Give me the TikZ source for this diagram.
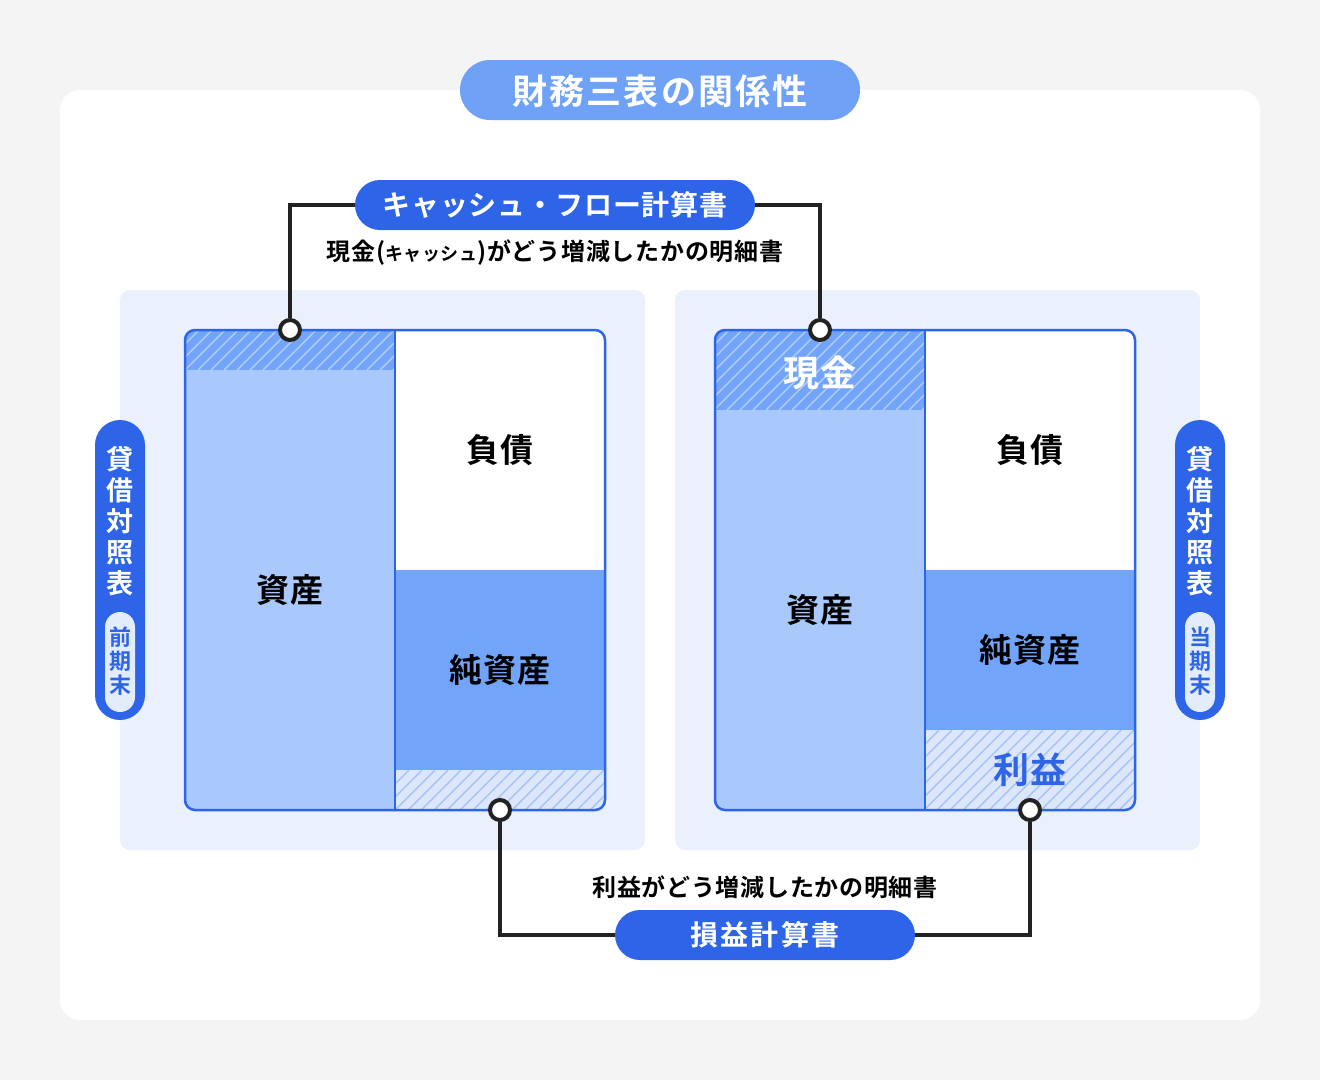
\documentclass[tikz,border=0pt]{standalone}
\usepackage{fontspec}
\setmainfont{Noto Sans CJK JP}[BoldFont={Noto Sans CJK JP Bold}]
\definecolor{bgc}{HTML}{F5F4F5}
\definecolor{panelc}{HTML}{EAF1FC}
\definecolor{deepc}{HTML}{2D64E8}
\definecolor{midc}{HTML}{72A4F9}
\definecolor{lightc}{HTML}{A9C8FC}
\definecolor{palec}{HTML}{DCE7FC}
\definecolor{hatchc}{HTML}{A6C2F6}
\definecolor{titlec}{HTML}{6FA2F7}
\definecolor{tagc}{HTML}{E3ECFB}
\definecolor{inkc}{HTML}{222222}
\tikzset{
  pill/.style={fill=#1, text=white, inner sep=0pt, font=\bfseries},
  conn/.style={draw=inkc, line width=4pt},
  dot/.style={circle, draw=inkc, fill=white, line width=4pt, minimum size=20pt, inner sep=0pt},
  big/.style={font=\fontsize{33}{36}\selectfont\bfseries\addfontfeature{LetterSpace=2}, text=black},
  bigger/.style={font=\fontsize{36}{40}\selectfont\bfseries\addfontfeature{LetterSpace=2}},
  sub/.style={font=\fontsize{24}{27}\selectfont\bfseries\addfontfeature{LetterSpace=3}, text=black},
  vlab/.style={font=\fontsize{27}{31}\selectfont\bfseries, text=white, align=center, inner sep=0pt},
  vtag/.style={font=\fontsize{22}{24}\selectfont\bfseries, text=deepc, align=center, inner sep=0pt},
  hatchw/.style={draw=white, draw opacity=0.45, line width=1.4pt},
  hatchb/.style={draw=hatchc, line width=1.4pt}
}
\begin{document}
\begin{tikzpicture}[x=1pt,y=-1pt]
\fill[bgc] (0,0) rectangle (1320,1080);
\useasboundingbox (0,0) rectangle (1320,1080);
\fill[white, rounded corners=20pt] (60,90) rectangle (1260,1020);

% title
\fill[titlec, rounded corners=30pt] (460,60) rectangle (860,120);
\node[font=\fontsize{35}{40}\selectfont\bfseries\addfontfeature{LetterSpace=6}, text=white] (title) at (660,91) {財務三表の関係性};

% panels
\fill[panelc, rounded corners=10pt] (120,290) rectangle (645,850);
\fill[panelc, rounded corners=10pt] (675,290) rectangle (1200,850);

% ---------- left balance sheet ----------
\begin{scope}
\clip[rounded corners=10pt] (185,330) rectangle (605,810);
\fill[lightc] (185,330) rectangle (395,810);
\fill[midc] (185,330) rectangle (395,370);
\begin{scope}
\clip (185,330) rectangle (395,370);
\foreach \i in {-52,-39,...,260} {\draw[hatchw] ({185+\i},370) -- ({225+\i},330);}
\end{scope}
\fill[white] (395,330) rectangle (605,570);
\fill[midc] (395,570) rectangle (605,770);
\fill[palec] (395,770) rectangle (605,810);
\begin{scope}
\clip (395,770) rectangle (605,810);
\foreach \i in {-52,-39,...,260} {\draw[hatchb] ({395+\i},810) -- ({435+\i},770);}
\end{scope}
\end{scope}
\draw[deepc, line width=1.5pt] (395,330) -- (395,810);
\draw[deepc, line width=2.5pt, rounded corners=10pt] (185,330) rectangle (605,810);
\node[big] (lassets) at (290,590) {資産};
\node[big] (lliab) at (500,450) {負債};
\node[big] (lequity) at (500,670) {純資産};

% ---------- right balance sheet ----------
\begin{scope}
\clip[rounded corners=10pt] (715,330) rectangle (1135,810);
\fill[lightc] (715,330) rectangle (925,810);
\fill[midc] (715,330) rectangle (925,410);
\begin{scope}
\clip (715,330) rectangle (925,410);
\foreach \i in {-92,-79,...,260} {\draw[hatchw] ({715+\i},410) -- ({795+\i},330);}
\end{scope}
\fill[white] (925,330) rectangle (1135,570);
\fill[midc] (925,570) rectangle (1135,730);
\fill[palec] (925,730) rectangle (1135,810);
\begin{scope}
\clip (925,730) rectangle (1135,810);
\foreach \i in {-92,-79,...,260} {\draw[hatchb] ({925+\i},810) -- ({1005+\i},730);}
\end{scope}
\end{scope}
\draw[deepc, line width=1.5pt] (925,330) -- (925,810);
\draw[deepc, line width=2.5pt, rounded corners=10pt] (715,330) rectangle (1135,810);
\node[bigger, text=white] (cash) at (820,373) {現金};
\node[big] (rassets) at (820,610) {資産};
\node[big] (rliab) at (1030,450) {負債};
\node[big] (requity) at (1030,650) {純資産};
\node[bigger, text=deepc] (profit) at (1030,770) {利益};

% ---------- side labels ----------
\fill[deepc, rounded corners=25pt] (95,420) rectangle (145,720);
\node[vlab] (lbs) at (120,521) {貸\\借\\対\\照\\表};
\fill[tagc, rounded corners=15pt] (105,612) rectangle (135,712);
\node[vtag] (lprev) at (120,661) {前\\期\\末};

\fill[deepc, rounded corners=25pt] (1175,420) rectangle (1225,720);
\node[vlab] (rbs) at (1200,521) {貸\\借\\対\\照\\表};
\fill[tagc, rounded corners=15pt] (1185,612) rectangle (1215,712);
\node[vtag] (rcur) at (1200,661) {当\\期\\末};

% ---------- cash flow statement ----------
\node[pill=deepc, rounded corners=25pt, minimum width=400pt, minimum height=50pt,
      font=\fontsize{28}{32}\selectfont\bfseries\addfontfeature{LetterSpace=3}] (cf) at (555,205) {キャッシュ・フロー計算書};
\node[sub] (cfsub) at (555,253) {現金({\fontsize{18}{20}\selectfont キャッシュ})がどう増減したかの明細書};
\node[dot] (c1) at (290,330) {};
\node[dot] (c2) at (820,330) {};
\draw[conn] (c1.north) |- (cf.west);
\draw[conn] (cf.east) -| (c2.north);

% ---------- income statement ----------
\node[pill=deepc, rounded corners=25pt, minimum width=300pt, minimum height=50pt,
      font=\fontsize{28}{32}\selectfont\bfseries\addfontfeature{LetterSpace=8}] (pl) at (765,935) {損益計算書};
\node[sub] (plsub) at (765,887) {利益がどう増減したかの明細書};
\node[dot] (c3) at (500,810) {};
\node[dot] (c4) at (1030,810) {};
\draw[conn] (c3.south) |- (pl.west);
\draw[conn] (pl.east) -| (c4.south);
\end{tikzpicture}
\end{document}
